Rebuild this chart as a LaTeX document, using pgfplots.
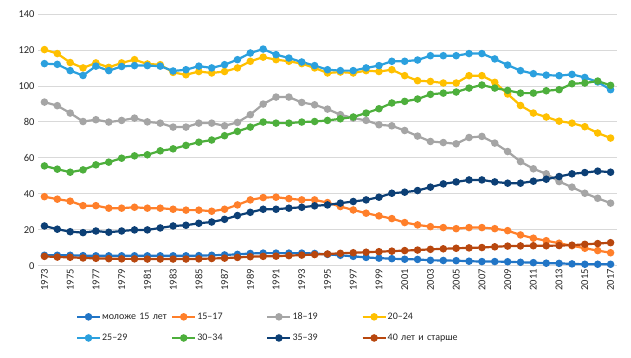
\documentclass[border=0pt]{standalone}
\usepackage{pgfplots}
\pgfplotsset{compat=1.18}
\usepackage{pgfplotstable}
\usepackage{fontspec}
\setmainfont{Carlito}
\definecolor{cA}{HTML}{2175C6}
\definecolor{cB}{HTML}{FF7F2A}
\definecolor{cC}{HTML}{A5A5A5}
\definecolor{cD}{HTML}{FFC000}
\definecolor{cE}{HTML}{2BA0DE}
\definecolor{cF}{HTML}{4DAF3C}
\definecolor{cG}{HTML}{0C3F75}
\definecolor{cH}{HTML}{B8470E}
\definecolor{gridc}{HTML}{D9D9D9}
\pgfplotstableread{
year a b c d e f g h
1973 5.8 38.4 91.0 120.2 112.4 55.5 22.1 5.2
1974 5.8 37.0 89.0 118.0 112.0 53.7 20.3 4.8
1975 5.8 35.9 84.9 113.0 108.5 52.0 18.9 4.7
1976 5.6 33.4 80.2 110.0 105.8 53.3 18.4 4.3
1977 5.5 33.4 81.2 112.8 111.0 56.1 19.3 4.1
1978 5.5 32.0 79.9 110.3 108.5 57.6 18.6 3.9
1979 5.5 32.0 80.8 112.8 110.8 59.8 19.3 3.8
1980 5.5 32.5 82.1 114.6 111.3 61.1 19.9 3.8
1981 5.5 32.0 80.0 112.2 111.3 61.7 19.9 3.7
1982 5.5 32.0 79.3 111.8 111.0 63.9 21.0 3.7
1983 5.5 31.4 77.1 107.5 108.3 65.0 22.1 3.7
1984 5.5 30.9 77.1 106.2 109.0 66.9 22.5 3.7
1985 5.6 30.9 79.3 108.0 111.0 68.7 23.6 3.8
1986 5.8 30.3 79.3 107.2 110.0 69.9 24.3 4.0
1987 6.0 31.4 77.8 108.0 111.8 72.3 25.8 4.2
1988 6.3 33.8 79.7 110.0 114.6 74.7 27.9 4.6
1989 6.8 36.6 84.0 113.7 118.3 77.1 29.7 5.0
1990 7.0 37.9 89.9 116.0 120.5 79.9 31.4 5.2
1991 7.0 38.1 93.8 114.6 117.4 79.3 31.4 5.3
1992 7.0 37.3 93.8 113.7 115.5 79.3 32.0 5.6
1993 7.0 36.6 90.8 112.4 113.3 79.9 32.5 5.9
1994 6.8 36.6 89.5 110.0 111.3 80.2 33.3 6.2
1995 6.3 35.1 87.1 107.2 109.0 80.8 33.8 6.5
1996 5.8 32.9 84.0 107.7 108.5 81.7 34.8 6.9
1997 5.2 31.0 82.1 107.2 108.5 82.7 35.7 7.2
1998 4.6 29.2 80.8 108.5 110.0 84.9 36.6 7.5
1999 4.2 27.7 78.4 108.0 111.3 87.3 38.1 7.8
2000 3.9 26.2 77.8 109.0 113.7 90.5 40.3 8.1
2001 3.6 24.0 75.2 105.7 113.7 91.4 40.9 8.4
2002 3.5 22.7 72.1 102.9 114.4 92.7 41.8 8.7
2003 3.0 21.7 69.1 102.5 116.8 95.3 43.7 9.1
2004 2.9 21.2 68.5 101.6 116.8 96.0 45.5 9.4
2005 2.8 20.6 67.8 101.6 116.8 96.6 46.6 9.7
2006 2.5 21.2 71.3 105.7 118.0 98.8 47.7 9.9
2007 2.3 21.2 71.9 105.7 118.0 100.5 47.7 10.1
2008 2.3 20.6 68.2 102.0 115.0 98.8 46.6 10.5
2009 2.2 19.5 63.5 95.5 111.6 97.5 45.9 10.9
2010 1.9 17.1 57.9 89.1 108.5 96.0 45.9 11.0
2011 1.7 15.3 53.9 84.9 106.8 96.0 47.0 11.1
2012 1.4 13.9 51.1 82.7 106.0 97.3 48.1 11.1
2013 1.3 12.5 46.8 80.4 105.7 97.9 49.6 11.2
2014 1.0 11.1 43.7 79.3 106.4 101.2 51.1 11.4
2015 0.8 9.7 40.3 77.3 104.7 101.6 51.8 11.9
2016 0.8 8.4 37.5 73.8 102.2 102.7 52.6 12.3
2017 0.8 7.2 34.8 71.0 97.9 100.3 52.0 12.8
}\data
\begin{document}
\begin{tikzpicture}
\useasboundingbox (0,0) rectangle (631bp,358bp);
\begin{axis}[
  at={(38bp,92.3bp)}, anchor=south west,
  scale only axis, width=579bp, height=251.7bp,
  xmin=1972.5, xmax=2017.5, ymin=0, ymax=140,
  ytick={0,20,...,140},
  xtick={1973,1975,...,2017},
  xticklabel style={rotate=90, anchor=east, font=\fontsize{10.5bp}{12bp}\selectfont, text=black!85},
  yticklabel style={font=\fontsize{10.5bp}{12bp}\selectfont, text=black!85},
  /pgf/number format/assume math mode=true,
  /pgf/number format/1000 sep={},
  ymajorgrids, grid style={gridc, line width=0.8bp},
  axis line style={draw=none}, major tick length=0pt,
  every axis plot/.append style={line width=2.2bp, mark=*, mark size=2.6bp, mark options={solid}},
  legend columns=4,
  legend image code/.code={\draw[mark repeat=2,mark phase=2,#1] plot coordinates {(0bp,0bp) (11.5bp,0bp) (23bp,0bp)};},
  legend style={draw=none, fill=none, at={(0.06,-0.17)}, anchor=north west,
    font=\fontsize{10bp}{12bp}\selectfont, text=black!85,
    nodes={text width=66bp, align=left, inner xsep=1bp},
    /tikz/every even column/.append style={column sep=2bp},
    row sep=9bp},
]
\addplot[cA] table[x=year,y=a]{\data}; \addlegendentry{\mbox{моложе 15 лет}}
\addplot[cB] table[x=year,y=b]{\data}; \addlegendentry{15–17}
\addplot[cC] table[x=year,y=c]{\data}; \addlegendentry{18–19}
\addplot[cD] table[x=year,y=d]{\data}; \addlegendentry{20–24}
\addplot[cE] table[x=year,y=e]{\data}; \addlegendentry{25–29}
\addplot[cF] table[x=year,y=f]{\data}; \addlegendentry{30–34}
\addplot[cG] table[x=year,y=g]{\data}; \addlegendentry{35–39}
\addplot[cH] table[x=year,y=h]{\data}; \addlegendentry{\mbox{40 лет и старше}}
\end{axis}
\end{tikzpicture}
\end{document}
